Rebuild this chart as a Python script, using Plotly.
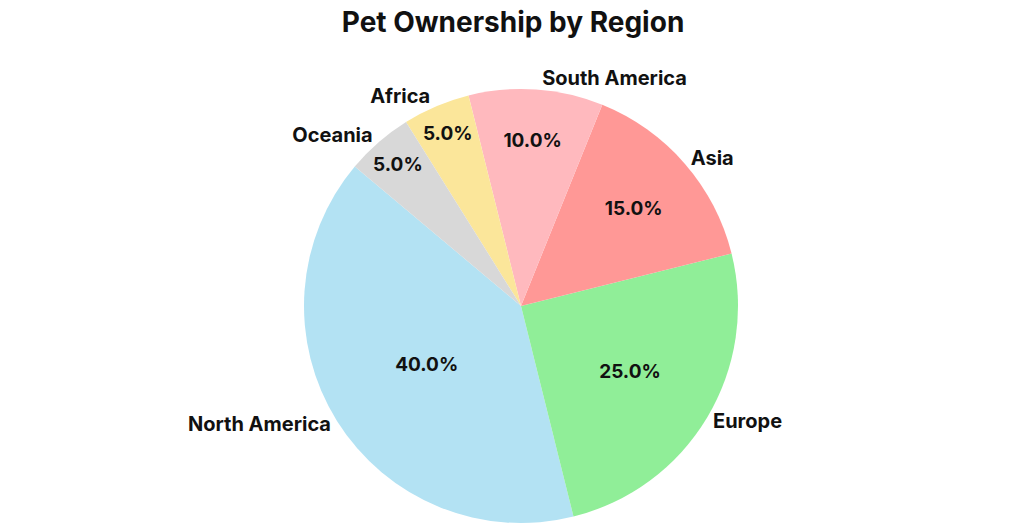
import plotly.graph_objects as go

regions = ["North America", "Europe", "Asia", "South America", "Africa", "Oceania"]
shares = [40, 25, 15, 10, 5, 5]
colors = ["#B3E2F3", "#90EE98", "#FF9896", "#FFB9BE", "#FBE69A", "#D8D8D8"]

FONT = "Inter"
ROT = 166

fig = go.Figure()
# colored pie with percentages inside
fig.add_trace(go.Pie(
    labels=regions, values=shares, sort=False, direction="counterclockwise",
    rotation=ROT, marker=dict(colors=colors, line=dict(width=0)),
    textinfo="percent", texttemplate="%{percent:.1%}", textposition="inside",
    insidetextorientation="horizontal",
    textfont=dict(family=FONT, size=19, color="#111111", weight="bold"),
    showlegend=False, hoverinfo="label+percent",
))
# transparent overlay carrying the outside labels
fig.add_trace(go.Pie(
    labels=regions, values=shares, sort=False, direction="counterclockwise",
    rotation=ROT, marker=dict(colors=["rgba(0,0,0,0)"] * len(regions), line=dict(width=0)),
    textinfo="label", textposition="outside", automargin=False,
    textfont=dict(family=FONT, size=20, color="#111111", weight="bold"),
    showlegend=False, hoverinfo="skip",
))

fig.update_layout(
    width=1024, height=527,
    margin=dict(l=100, r=82, t=89, b=4),
    paper_bgcolor="white", plot_bgcolor="white",
    title=dict(text="Pet Ownership by Region", x=0.501, xanchor="center", xref="container",
               y=0.958, yanchor="middle",
               font=dict(family=FONT, size=28, color="#111111", weight="bold")),
)

fig.write_html("out.html")
